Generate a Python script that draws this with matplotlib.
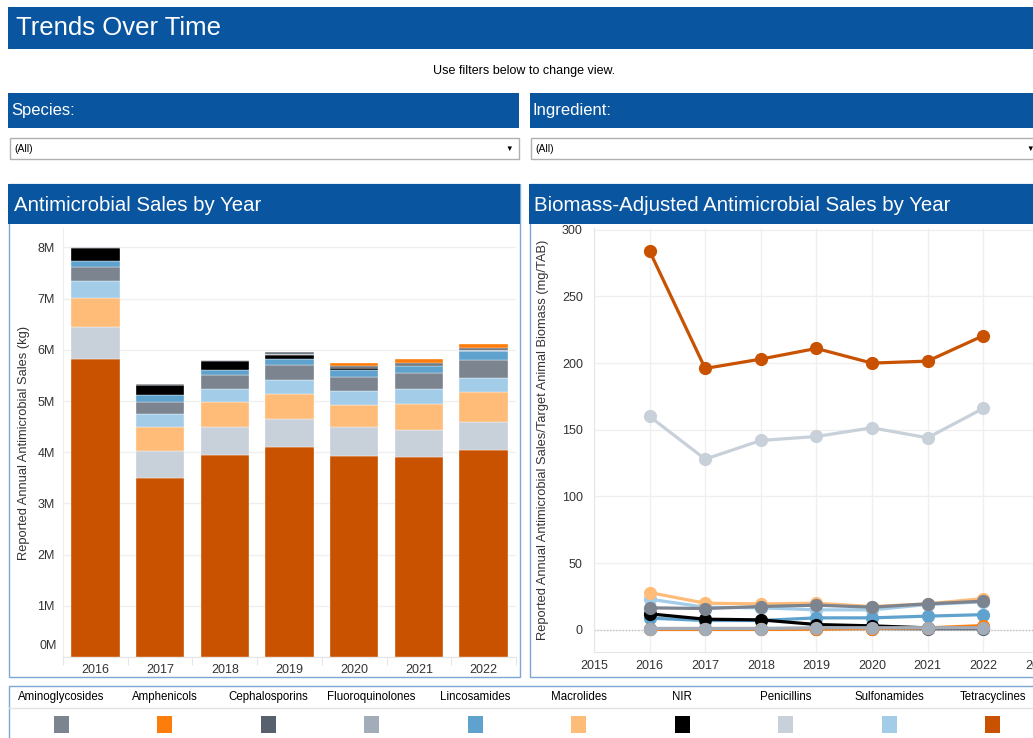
import matplotlib
matplotlib.use("Agg")
import matplotlib.pyplot as plt
from matplotlib.patches import Rectangle
from matplotlib.ticker import FuncFormatter, MultipleLocator, FixedLocator
import numpy as np

plt.rcParams['font.family'] = ['Liberation Sans', 'DejaVu Sans']

# ---------------- data ----------------
years = [2016, 2017, 2018, 2019, 2020, 2021, 2022]
classes = ["Aminoglycosides", "Amphenicols", "Cephalosporins", "Fluoroquinolones",
           "Lincosamides", "Macrolides", "NIR", "Penicillins", "Sulfonamides", "Tetracyclines"]
colors = {"Aminoglycosides": "#7b848f", "Amphenicols": "#fc7d0b", "Cephalosporins": "#57606c",
          "Fluoroquinolones": "#a3acb9", "Lincosamides": "#5fa2ce", "Macrolides": "#ffbc79",
          "NIR": "#000000", "Penicillins": "#c8d0d9", "Sulfonamides": "#a3cce9",
          "Tetracyclines": "#c85200"}

# Sales in millions of kg
sales_tetracyclines = [5.82, 3.50, 3.95, 4.10, 3.93, 3.91, 4.05]
sales_penicillins = [0.63, 0.53, 0.55, 0.54, 0.56, 0.52, 0.55]
sales_macrolides = [0.56, 0.47, 0.48, 0.50, 0.44, 0.51, 0.57]
sales_sulfonamides = [0.34, 0.25, 0.25, 0.28, 0.27, 0.29, 0.285]
sales_aminoglycosides = [0.27, 0.23, 0.27, 0.285, 0.27, 0.32, 0.34]
sales_lincosamides = [0.125, 0.14, 0.11, 0.11, 0.14, 0.14, 0.18]
sales_nir = [0.25, 0.19, 0.18, 0.09, 0.03, 0.01, 0.01]
sales_fluoroquinolones = [0.005, 0.005, 0.005, 0.01, 0.01, 0.01, 0.01]
sales_cephalosporins = [0.01, 0.01, 0.01, 0.04, 0.04, 0.04, 0.05]
sales_amphenicols = [0.005, 0.005, 0.005, 0.01, 0.045, 0.065, 0.065]

# Biomass-adjusted sales (mg/TAB)
mgtab_tetracyclines = [284, 196, 203, 211, 200, 201.5, 220.5]
mgtab_penicillins = [160, 128, 142, 145, 151.5, 144, 166]
mgtab_macrolides = [28, 20, 19.5, 20, 17.5, 19.5, 23.5]
mgtab_sulfonamides = [23, 17, 16.5, 15, 15, 19, 21]
mgtab_aminoglycosides = [16.5, 16, 17.5, 18.5, 17, 19.5, 21.5]
mgtab_nir = [12, 8, 7.5, 4, 3, 1.5, 1.5]
mgtab_lincosamides = [8.8, 7, 7, 9, 9, 10.3, 11.4]
mgtab_cephalosporins = [1, 1, 1, 1, 1, 0.8, 0.8]
mgtab_fluoroquinolones = [1, 1, 1, 1.6, 1.6, 1.6, 1.6]
mgtab_amphenicols = [0.3, 0.3, 0.3, 0.5, 1, 1.5, 3.2]

sales = {"Tetracyclines": sales_tetracyclines, "Penicillins": sales_penicillins,
         "Macrolides": sales_macrolides, "Sulfonamides": sales_sulfonamides,
         "Aminoglycosides": sales_aminoglycosides, "Lincosamides": sales_lincosamides,
         "NIR": sales_nir, "Fluoroquinolones": sales_fluoroquinolones,
         "Cephalosporins": sales_cephalosporins, "Amphenicols": sales_amphenicols}
mgtab = {"Sulfonamides": mgtab_sulfonamides, "Macrolides": mgtab_macrolides,
         "Lincosamides": mgtab_lincosamides, "NIR": mgtab_nir,
         "Aminoglycosides": mgtab_aminoglycosides, "Cephalosporins": mgtab_cephalosporins,
         "Amphenicols": mgtab_amphenicols, "Fluoroquinolones": mgtab_fluoroquinolones,
         "Penicillins": mgtab_penicillins, "Tetracyclines": mgtab_tetracyclines}

# ---------------- layout helpers ----------------
W, H = 1033, 738
fig = plt.figure(figsize=(W / 100, H / 100), dpi=100)
fig.patch.set_facecolor("white")

HEADER = "#0a559f"
BORDER = "#7fa5d6"
TXT = "#333333"


def rect(x0, y0, x1, y1, fc="none", ec="none", lw=1.0, z=-1):
    fig.patches.append(Rectangle((x0 / W, 1 - y1 / H), (x1 - x0) / W, (y1 - y0) / H,
                                 transform=fig.transFigure, facecolor=fc, edgecolor=ec,
                                 linewidth=lw, zorder=z))


def text(x, y, s, **kw):
    fig.text(x / W, 1 - y / H, s, **kw)


def axes_px(x0, y0, x1, y1):
    ax = fig.add_axes([x0 / W, 1 - y1 / H, (x1 - x0) / W, (y1 - y0) / H])
    ax.set_zorder(2)
    return ax


# title bar
rect(8, 7, 1040, 49, fc=HEADER)
text(16, 28, "Trends Over Time", color="white", fontsize=18.5, va="center", ha="left")
text(524, 71, "Use filters below to change view.", color="black", fontsize=9, va="center", ha="center")

# filter bars
rect(8, 93, 519, 128, fc=HEADER)
rect(530, 93, 1040, 128, fc=HEADER)
text(11, 111, "Species:", color="white", fontsize=12, va="center", ha="left")
text(533, 111, "Ingredient:", color="white", fontsize=12, va="center", ha="left")

# dropdowns
rect(9.5, 138.5, 518.5, 158.5, fc="white", ec="#b0b0b0", lw=1)
rect(530.5, 138.5, 1040, 158.5, fc="white", ec="#b0b0b0", lw=1)
text(14, 148.5, "(All)", color="black", fontsize=7.5, va="center", ha="left")
text(535, 148.5, "(All)", color="black", fontsize=7.5, va="center", ha="left")
text(509, 149, "▼", color="black", fontsize=5.5, va="center", ha="center")
text(1030, 149, "▼", color="black", fontsize=5.5, va="center", ha="center")

# panels
rect(8.5, 184, 519.5, 676.5, fc="white", ec=BORDER, lw=1)
rect(8, 184, 520, 224, fc=HEADER)
text(14, 205.5, "Antimicrobial Sales by Year", color="white", fontsize=14.7, va="center", ha="left")
rect(529.5, 184, 1040, 676.5, fc="white", ec=BORDER, lw=1)
rect(529, 184, 1040, 224, fc=HEADER)
text(534, 205.5, "Biomass-Adjusted Antimicrobial Sales by Year", color="white", fontsize=14.7,
     va="center", ha="left")

# ---------------- left: stacked bars ----------------
ax1 = axes_px(63, 228, 516, 657)
ax1.set_facecolor("none")
x = np.arange(len(years))
bottom = np.zeros(len(years))
for name, vals in sales.items():
    v = np.array(vals)
    ax1.bar(x, v, width=0.75, bottom=bottom, color=colors[name], edgecolor="white",
            linewidth=0.25, zorder=3)
    bottom += v
ax1.set_xlim(-0.5, 6.5)
ax1.set_ylim(0, 8.38)
ax1.yaxis.set_major_locator(MultipleLocator(1))
ax1.yaxis.set_major_formatter(FuncFormatter(lambda v, p: "" if abs(v) < 1e-9 else f"{int(round(v))}M"))
ax1.set_xticks(x)
ax1.set_xticklabels([str(y) for y in years])
ax1.xaxis.set_minor_locator(FixedLocator(np.arange(-0.5, 7, 1)))
ax1.tick_params(axis="x", which="major", length=0, labelsize=9, colors=TXT, pad=5)
ax1.tick_params(axis="x", which="minor", length=6, color="#e6e6e6", width=0.8)
ax1.tick_params(axis="y", length=0, labelsize=9, colors=TXT, pad=6)
ax1.grid(axis="y", color="#efefef", linewidth=0.9, zorder=0)
ax1.set_axisbelow(True)
for s in ["top", "right"]:
    ax1.spines[s].set_visible(False)
ax1.spines["left"].set_color("#eeeeee")
ax1.spines["bottom"].set_color("#e6e6e6")
ax1.set_ylabel("Reported Annual Antimicrobial Sales (kg)", fontsize=9.3, color=TXT)
ax1.yaxis.set_label_coords(-33 / 453, 0.5)
# zero label sits just above the baseline, as in the reference
text(57, 646, "0M", color=TXT, fontsize=9, va="center", ha="right")

# ---------------- right: lines ----------------
ax2 = axes_px(594, 228, 1061, 652)
ax2.set_facecolor("none")
for name, vals in mgtab.items():
    ax2.plot(years, vals, color=colors[name], linewidth=2.3, marker="o", markersize=8.5,
             zorder=4, solid_capstyle="round")
ax2.set_xlim(2015, 2023.4)
ax2.set_ylim(-16.6, 301.3)
ax2.xaxis.set_major_locator(FixedLocator(list(range(2015, 2024))))
ax2.xaxis.set_major_formatter(FuncFormatter(lambda v, p: f"{int(v)}"))
ax2.yaxis.set_major_locator(FixedLocator([0, 50, 100, 150, 200, 250, 300]))
ax2.tick_params(axis="both", length=0, labelsize=9, colors=TXT)
ax2.tick_params(axis="y", pad=8)
ax2.tick_params(axis="x", pad=6)
ax2.grid(color="#efefef", linewidth=0.9, zorder=0)
ax2.axhline(0, color="#bbbbbb", linestyle=(0, (1, 1.5)), linewidth=0.9, zorder=1)
ax2.set_axisbelow(True)
for s in ["top", "right"]:
    ax2.spines[s].set_visible(False)
ax2.spines["left"].set_color("#e6e6e6")
ax2.spines["bottom"].set_color("#e6e6e6")
ax2.set_ylabel("Reported Annual Antimicrobial Sales/Target Animal Biomass (mg/TAB)",
               fontsize=9.3, color=TXT)
ax2.yaxis.set_label_coords(-45 / 467, 0.5)

# ---------------- legend ----------------
rect(8.5, 685.5, 1040, 745, fc="white", ec=BORDER, lw=1)
fig.lines.append(plt.Line2D([9 / W, 1], [1 - 708 / H, 1 - 708 / H], transform=fig.transFigure,
                            color="#e2e2e2", linewidth=1, zorder=0))
for i, name in enumerate(classes):
    cx = 61 + i * 103.5
    text(cx, 697, name, color="black", fontsize=8.3, va="center", ha="center")
    rect(cx - 7.5, 716, cx + 7.5, 733, fc=colors[name], z=1)

fig.savefig("out.png", dpi=100, facecolor="white")
